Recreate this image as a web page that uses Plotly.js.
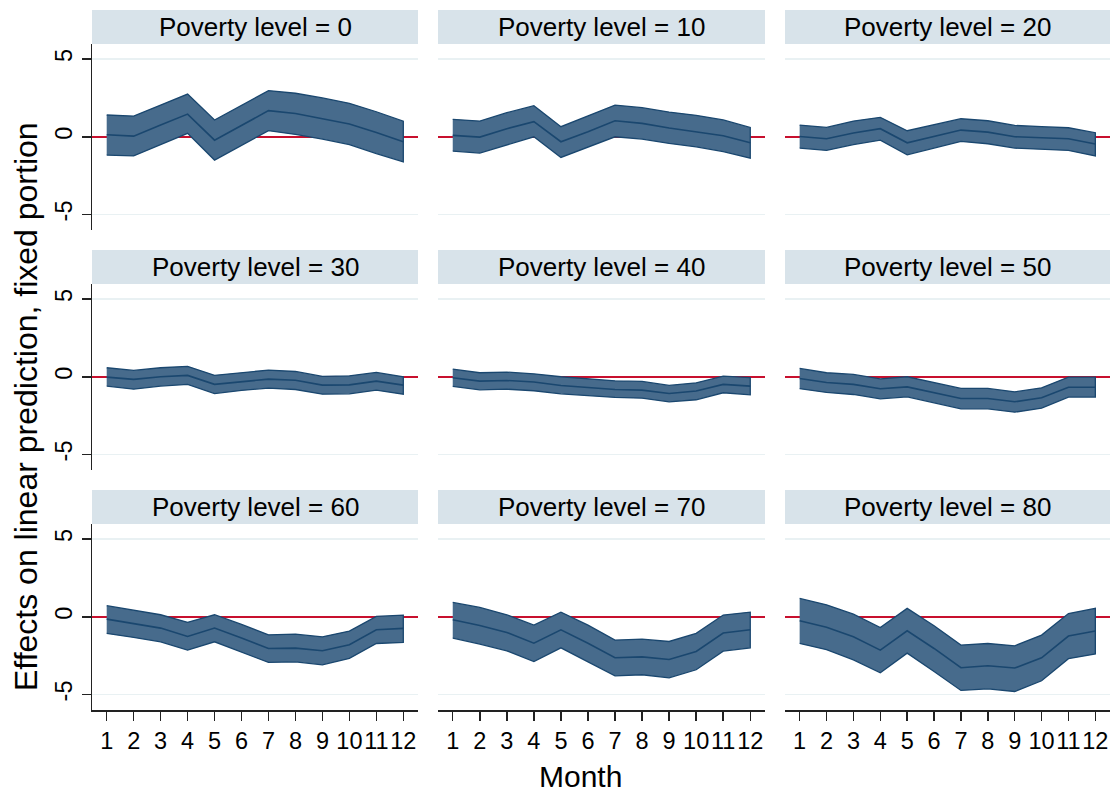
<!DOCTYPE html>
<html>
<head>
<meta charset="utf-8">
<script src="https://cdn.plot.ly/plotly-3.0.1.min.js"></script>
<style>
  html, body { margin: 0; padding: 0; background: #fff; }
  #chart { width: 1114px; height: 792px; }
</style>
</head>
<body>
<div id="chart"></div>
<script>
// months on the x axis
var months = [1, 2, 3, 4, 5, 6, 7, 8, 9, 10, 11, 12];
var povertyLevels = [0, 10, 20, 30, 40, 50, 60, 70, 80];
var yTicks = [-5, 0, 5];

// predicted effect (fit) with upper / lower confidence limits, per poverty level
var pov0_hi  = [1.40, 1.33, 2.04, 2.75, 1.08, 2.02, 2.97, 2.80, 2.50, 2.15, 1.61, 1.00];
var pov0_fit = [0.13, 0.04, 0.75, 1.46, -0.22, 0.73, 1.68, 1.50, 1.18, 0.82, 0.28, -0.32];
var pov0_lo  = [-1.18, -1.23, -0.50, 0.22, -1.50, -0.56, 0.39, 0.15, -0.15, -0.50, -1.08, -1.61];

var pov10_hi  = [1.12, 1.01, 1.55, 2.00, 0.65, 1.33, 2.04, 1.87, 1.59, 1.38, 1.08, 0.60];
var pov10_fit = [0.09, -0.02, 0.52, 0.97, -0.32, 0.32, 1.03, 0.86, 0.56, 0.32, 0.06, -0.39];
var pov10_lo  = [-0.92, -1.05, -0.54, 0.00, -1.33, -0.69, 0.00, -0.15, -0.43, -0.65, -0.95, -1.38];

var pov20_hi  = [0.75, 0.60, 1.01, 1.25, 0.39, 0.77, 1.16, 1.03, 0.73, 0.65, 0.58, 0.26];
var pov20_fit = [0.02, -0.13, 0.24, 0.52, -0.39, 0.02, 0.43, 0.30, 0.00, -0.06, -0.13, -0.47];
var pov20_lo  = [-0.73, -0.88, -0.50, -0.22, -1.16, -0.73, -0.30, -0.45, -0.73, -0.82, -0.88, -1.23];

var pov30_hi  = [0.58, 0.41, 0.58, 0.67, 0.09, 0.26, 0.43, 0.34, 0.02, 0.06, 0.28, 0.00];
var pov30_fit = [-0.02, -0.17, 0.00, 0.09, -0.49, -0.30, -0.15, -0.22, -0.54, -0.52, -0.28, -0.54];
var pov30_lo  = [-0.60, -0.80, -0.60, -0.49, -1.08, -0.88, -0.73, -0.82, -1.12, -1.10, -0.86, -1.12];

var pov40_hi  = [0.49, 0.26, 0.30, 0.19, 0.00, -0.11, -0.26, -0.30, -0.56, -0.39, 0.04, -0.06];
var pov40_fit = [-0.06, -0.28, -0.24, -0.34, -0.56, -0.67, -0.82, -0.86, -1.08, -0.92, -0.49, -0.60];
var pov40_lo  = [-0.62, -0.84, -0.80, -0.90, -1.10, -1.20, -1.33, -1.38, -1.61, -1.48, -1.03, -1.16];

var pov50_hi  = [0.54, 0.26, 0.15, -0.13, 0.00, -0.39, -0.75, -0.75, -0.97, -0.71, -0.02, -0.02];
var pov50_fit = [-0.11, -0.37, -0.49, -0.77, -0.65, -1.03, -1.40, -1.40, -1.61, -1.35, -0.67, -0.67];
var pov50_lo  = [-0.77, -1.01, -1.14, -1.42, -1.29, -1.68, -2.06, -2.06, -2.28, -2.02, -1.31, -1.31];

var pov60_hi  = [0.71, 0.43, 0.13, -0.36, 0.13, -0.49, -1.16, -1.12, -1.29, -0.92, 0.02, 0.11];
var pov60_fit = [-0.15, -0.43, -0.73, -1.27, -0.73, -1.37, -2.04, -2.02, -2.19, -1.80, -0.84, -0.75];
var pov60_lo  = [-1.07, -1.33, -1.61, -2.15, -1.61, -2.25, -2.94, -2.90, -3.09, -2.68, -1.72, -1.65];

var pov70_hi  = [0.92, 0.60, 0.13, -0.54, 0.30, -0.54, -1.50, -1.44, -1.59, -1.07, 0.11, 0.30];
var pov70_fit = [-0.19, -0.56, -1.01, -1.70, -0.84, -1.70, -2.64, -2.58, -2.75, -2.23, -1.05, -0.84];
var pov70_lo  = [-1.37, -1.76, -2.19, -2.88, -2.00, -2.90, -3.80, -3.73, -3.93, -3.41, -2.21, -2.00];

var pov80_hi  = [1.18, 0.77, 0.17, -0.69, 0.54, -0.58, -1.82, -1.72, -1.87, -1.18, 0.21, 0.54];
var pov80_fit = [-0.26, -0.67, -1.29, -2.15, -0.90, -2.04, -3.28, -3.15, -3.30, -2.64, -1.24, -0.92];
var pov80_lo  = [-1.72, -2.12, -2.77, -3.61, -2.34, -3.52, -4.74, -4.64, -4.81, -4.12, -2.70, -2.39];

var panels = [
    [pov0_hi, pov0_fit, pov0_lo], [pov10_hi, pov10_fit, pov10_lo], [pov20_hi, pov20_fit, pov20_lo],
    [pov30_hi, pov30_fit, pov30_lo], [pov40_hi, pov40_fit, pov40_lo], [pov50_hi, pov50_fit, pov50_lo],
    [pov60_hi, pov60_fit, pov60_lo], [pov70_hi, pov70_fit, pov70_lo], [pov80_hi, pov80_fit, pov80_lo]
];

var W = 1114, H = 792;
var FONT = 'Liberation Sans, Arial, sans-serif';
var navy = '#1a476f';
var bandFill = '#476b8c';
var stripColor = '#d8e3ea';

// pixel boxes of the panel plot areas (left/right) and (top/bottom)
var colPx = [[92, 418], [438, 765], [785, 1110]];
var rowPx = [[44, 230], [284, 470], [524, 710]];
var stripH = 34;

var data = [];
var layout = {
    width: W,
    height: H,
    margin: {l: 0, r: 0, t: 0, b: 0},
    paper_bgcolor: 'white',
    plot_bgcolor: 'white',
    showlegend: false,
    font: {family: FONT, color: 'black'},
    shapes: [],
    annotations: []
};

for (var i = 0; i < 9; i++) {
    var r = Math.floor(i / 3), c = i % 3;
    var sfx = i === 0 ? '' : String(i + 1);
    var xa = 'x' + sfx, ya = 'y' + sfx;
    var hi = panels[i][0], fit = panels[i][1], lo = panels[i][2];

    // confidence band as a closed polygon
    data.push({
        x: months.concat(months.slice().reverse()),
        y: hi.concat(lo.slice().reverse()),
        xaxis: xa, yaxis: ya,
        type: 'scatter', mode: 'lines',
        fill: 'toself', fillcolor: bandFill,
        line: {color: navy, width: 1.3},
        hoverinfo: 'skip'
    });
    data.push({
        x: months, y: fit,
        xaxis: xa, yaxis: ya,
        type: 'scatter', mode: 'lines',
        line: {color: navy, width: 1.6}
    });

    var xdom = [colPx[c][0] / W, colPx[c][1] / W];
    var ydom = [1 - rowPx[r][1] / H, 1 - rowPx[r][0] / H];
    var bottom = r === 2, left = c === 0;

    layout['xaxis' + sfx] = {
        domain: xdom,
        anchor: ya,
        range: [0.455, 12.545],
        tickvals: months,
        tickangle: 0,
        showgrid: false,
        zeroline: false,
        showline: bottom,
        linecolor: '#222', linewidth: 1.5,
        ticks: bottom ? 'outside' : '',
        ticklen: 9, tickwidth: 1.5, tickcolor: '#222',
        showticklabels: bottom,
        tickfont: {size: 23.5, family: FONT, color: 'black'},
        fixedrange: true
    };
    layout['yaxis' + sfx] = {
        domain: ydom,
        anchor: xa,
        range: [-6.0, 5.97],
        tickvals: yTicks,
        ticktext: yTicks.map(String),
        showgrid: true,
        gridcolor: '#e9f1f3', gridwidth: 1.5,
        zeroline: true,
        zerolinecolor: '#c8102e', zerolinewidth: 1.6,
        showline: left,
        linecolor: '#222', linewidth: 1.5,
        ticks: left ? 'outside' : '',
        ticklen: 9, tickwidth: 1.5, tickcolor: '#222',
        showticklabels: left,
        tickangle: -90,
        tickfont: {size: 23.5, family: FONT, color: 'black'},
        fixedrange: true
    };

    // header strip above each panel
    layout.shapes.push({
        type: 'rect', xref: 'paper', yref: 'paper',
        x0: xdom[0], x1: xdom[1],
        y0: 1 - rowPx[r][0] / H, y1: 1 - (rowPx[r][0] - stripH) / H,
        fillcolor: stripColor, line: {width: 0}, layer: 'below'
    });
    layout.annotations.push({
        xref: 'paper', yref: 'paper',
        x: (xdom[0] + xdom[1]) / 2,
        y: 1 - (rowPx[r][0] - stripH / 2) / H,
        xanchor: 'center', yanchor: 'middle',
        text: 'Poverty level = ' + povertyLevels[i],
        showarrow: false,
        font: {size: 26, family: FONT, color: 'black'}
    });
}

// shared axis titles
layout.annotations.push({
    xref: 'paper', yref: 'paper',
    x: 26 / W, y: 1 - 407 / H,
    xanchor: 'center', yanchor: 'middle',
    textangle: -90,
    text: 'Effects on linear prediction, fixed portion',
    showarrow: false,
    font: {size: 32, family: FONT, color: 'black'}
});
layout.annotations.push({
    xref: 'paper', yref: 'paper',
    x: 580 / W, y: 1 - 776 / H,
    xanchor: 'center', yanchor: 'middle',
    text: 'Month',
    showarrow: false,
    font: {size: 30, family: FONT, color: 'black'}
});

Plotly.newPlot('chart', data, layout, {staticPlot: true, displayModeBar: false});
</script>
</body>
</html>
